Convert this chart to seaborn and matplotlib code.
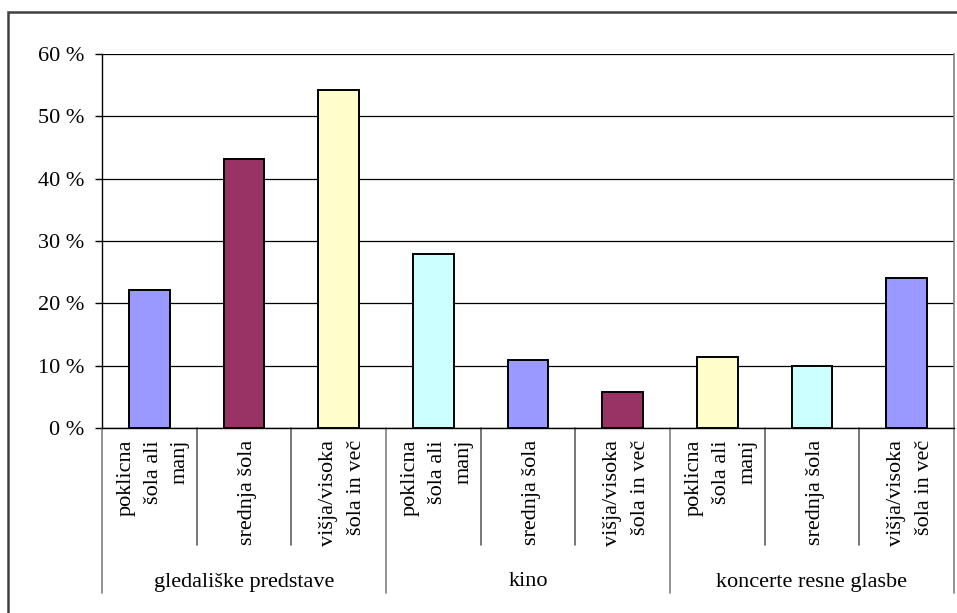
import matplotlib
matplotlib.use("Agg")
import matplotlib.pyplot as plt
import matplotlib.transforms as mtransforms
from matplotlib.patches import Rectangle
import seaborn as sns
import pandas as pd

groups = ["gledališke predstave", "kino", "koncerte resne glasbe"]
levels = ["poklicna\nšola ali\nmanj", "srednja šola", "višja/visoka\nšola in več"]
values = [22.1, 43.1, 54.3, 27.9, 10.9, 5.8, 11.4, 9.9, 24.1]
colors = ["#9999FF", "#993366", "#FFFFCC", "#CCFFFF", "#9999FF",
          "#993366", "#FFFFCC", "#CCFFFF", "#9999FF"]
yticks = [0, 10, 20, 30, 40, 50, 60]
ytick_labels = ["0 %", "10 %", "20 %", "30 %", "40 %", "50 %", "60 %"]

keys, lvl_labels = [], []
for g in groups:
    for l in levels:
        keys.append(g + "|" + l)
        lvl_labels.append(l)
df = pd.DataFrame({"key": keys, "value": values})

sns.set_theme(style="white")
plt.rcParams["font.family"] = ["Liberation Serif", "DejaVu Serif"]

FS = 16
fig = plt.figure(figsize=(9.57, 6.13), dpi=100)
W, H = 957, 613
ax = fig.add_axes([102 / W, 1 - 428 / H, (954 - 102) / W, (428 - 54) / H])

sns.barplot(data=df, x="key", y="value", hue="key", palette=colors,
            order=keys, hue_order=keys, legend=False, dodge=False,
            width=0.43, edgecolor="black", linewidth=1.4, ax=ax,
            saturation=1, zorder=3)

ax.set_ylim(0, 60)
ax.set_xlim(-0.5, len(keys) - 0.5)
ax.set_yticks(yticks)
ax.set_yticklabels(ytick_labels, fontsize=FS, color="black")
ax.yaxis.grid(True, color="black", linewidth=0.9, zorder=0)
ax.set_axisbelow(True)
ax.tick_params(axis="y", which="major", direction="out", length=5,
               width=1, color="black", pad=8, left=True)
ax.set_xlabel("")
ax.set_ylabel("")
ax.set_xticks(range(len(keys)))
ax.set_xticklabels([])
ax.tick_params(axis="x", length=0)

for side in ["left", "bottom"]:
    ax.spines[side].set_color("black")
    ax.spines[side].set_linewidth(1.0)
ax.spines["right"].set_color("#808080")
ax.spines["right"].set_linewidth(1.2)
ax.spines["top"].set_visible(False)

trans = mtransforms.blended_transform_factory(ax.transData, ax.transAxes)
ah = 428 - 54
short_y = -(545 - 428) / ah
long_y = -(593 - 428) / ah
for i in range(len(keys) + 1):
    xb = i - 0.5
    yb = long_y if i % 3 == 0 else short_y
    ax.plot([xb, xb], [0, yb], transform=trans, color="#808080" if i % 3 == 0 else "#606060",
            linewidth=1.2, clip_on=False)

lab_top = -(440 - 428) / ah
for i, l in enumerate(lvl_labels):
    ax.text(i + 0.04, lab_top, l, transform=trans, rotation=90, ha="center",
            va="top", multialignment="right", fontsize=FS, linespacing=1.6,
            color="black")

grp_y = -(582 - 428) / ah
for gi, g in enumerate(groups):
    ax.text(gi * 3 + 1, grp_y, g, transform=trans, ha="center", va="center",
            fontsize=FS, color="black")

fig.patches.append(Rectangle((8 / W, -0.1), 1.2, 1 - 12 / H + 0.1,
                             transform=fig.transFigure, fill=False,
                             edgecolor="#404040", linewidth=1.8))

fig.savefig("out.png", dpi=100)
